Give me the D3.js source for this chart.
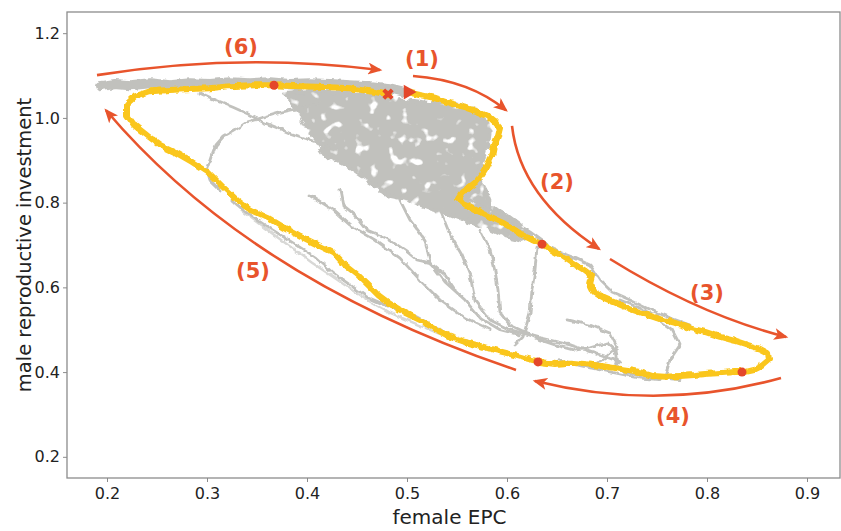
<!doctype html>
<html>
<head>
<meta charset="utf-8">
<script src="https://d3js.org/d3.v7.min.js"></script>
<style>
  body { margin: 0; background: #fff; }
  text { font-family: "DejaVu Sans", Verdana, sans-serif; }
</style>
</head>
<body>
<svg id="chart" width="841" height="531"></svg>
<script>
// ---- data (female EPC, male reproductive investment) ----
var xTicks = [0.2, 0.3, 0.4, 0.5, 0.6, 0.7, 0.8, 0.9];
var yTicks = [0.2, 0.4, 0.6, 0.8, 1.0, 1.2];

// highlighted trajectory (yellow)
var loopX = [0.500,0.513,0.528,0.543,0.558,0.571,0.581,0.588,0.593,0.591,0.587,0.585,0.580,0.575,0.569,0.561,0.555,0.551,0.555,0.563,0.573,0.585,0.596,0.605,0.615,0.625,0.635,0.645,0.655,0.665,0.677,0.685,0.683,0.687,0.697,0.709,0.723,0.738,0.753,0.768,0.783,0.798,0.813,0.828,0.841,0.853,0.861,0.862,0.855,0.847,0.838,0.828,0.815,0.801,0.787,0.773,0.759,0.745,0.733,0.721,0.707,0.693,0.678,0.663,0.648,0.633,0.618,0.603,0.588,0.573,0.558,0.543,0.528,0.513,0.498,0.483,0.471,0.461,0.451,0.438,0.426,0.411,0.393,0.378,0.361,0.343,0.330,0.315,0.301,0.285,0.268,0.253,0.241,0.228,0.220,0.220,0.228,0.243,0.263,0.283,0.303,0.323,0.343,0.367,0.393,0.418,0.443,0.463,0.481];
var loopY = [1.061,1.054,1.047,1.035,1.025,1.014,1.004,0.990,0.976,0.957,0.933,0.910,0.886,0.867,0.849,0.834,0.825,0.811,0.799,0.790,0.778,0.764,0.752,0.740,0.724,0.712,0.702,0.688,0.674,0.658,0.641,0.627,0.608,0.589,0.575,0.563,0.549,0.537,0.525,0.516,0.504,0.495,0.483,0.474,0.464,0.455,0.445,0.429,0.415,0.405,0.400,0.400,0.398,0.396,0.393,0.391,0.389,0.391,0.400,0.405,0.410,0.415,0.419,0.422,0.419,0.424,0.433,0.443,0.452,0.462,0.471,0.483,0.502,0.523,0.540,0.561,0.582,0.606,0.629,0.653,0.683,0.700,0.721,0.740,0.764,0.783,0.806,0.839,0.872,0.896,0.919,0.936,0.957,0.981,1.007,1.033,1.051,1.063,1.066,1.068,1.070,1.075,1.077,1.077,1.075,1.073,1.070,1.063,1.056];

// marked time points on the trajectory
var dotX = [0.367, 0.635, 0.631, 0.835];
var dotY = [1.077, 0.702, 0.424, 0.400];
var startPt = [0.501, 1.061];
var endPt = [0.481, 1.056];

// other replicate trajectories (grey)
var bandX = [0.193,0.208,0.223,0.243,0.263,0.283,0.303,0.323,0.343,0.363,0.383,0.403,0.423,0.443,0.463,0.483,0.498];
var bandY = [1.075,1.080,1.077,1.082,1.077,1.082,1.080,1.084,1.082,1.084,1.080,1.082,1.080,1.077,1.075,1.070,1.061];

var cloudX = [0.378,0.403,0.433,0.463,0.493,0.523,0.548,0.568,0.578,0.583,0.581,0.577,0.571,0.579,0.585,0.598,0.613,0.625,0.615,0.598,0.581,0.563,0.543,0.523,0.503,0.483,0.468,0.453,0.438,0.418,0.408,0.398,0.391,0.383];
var cloudY = [1.061,1.066,1.061,1.054,1.044,1.035,1.028,1.018,0.999,0.971,0.936,0.900,0.865,0.830,0.794,0.771,0.745,0.721,0.712,0.721,0.740,0.754,0.773,0.787,0.806,0.816,0.842,0.865,0.889,0.912,0.948,0.983,1.018,1.042];

var runsX = [
  [0.293,0.308,0.326,0.341,0.356,0.371,0.383,0.398,0.413,0.428],
  [0.413,0.393,0.370,0.353,0.340,0.328,0.316,0.309,0.306,0.303,0.300,0.303,0.313],
  [0.325,0.340,0.358,0.386,0.408,0.426,0.443,0.460,0.483,0.500,0.523,0.553,0.583],
  [0.433,0.436,0.448,0.460,0.480,0.498,0.510,0.523,0.538,0.548],
  [0.403,0.426,0.443,0.468,0.493,0.513,0.533,0.558,0.583],
  [0.563,0.583,0.603,0.623,0.638,0.653,0.668,0.683,0.693,0.705,0.723,0.743,0.763,0.783],
  [0.573,0.583,0.588,0.591,0.593,0.603,0.620,0.633,0.648,0.668,0.683,0.700,0.708,0.710,0.718,0.743,0.773],
  [0.630,0.628,0.625,0.623,0.616,0.608],
  [0.660,0.683,0.703,0.710,0.696,0.683],
  [0.713,0.733,0.748,0.765,0.773,0.763,0.758],
  [0.493,0.503,0.518,0.523,0.538,0.558,0.573,0.593,0.613],
  [0.533,0.543,0.555,0.563,0.568,0.583,0.603,0.633,0.663,0.693,0.713],
  [0.653,0.673,0.693,0.713,0.733,0.753]
];
var runsY = [
  [1.058,1.042,1.025,1.009,0.990,0.976,0.964,0.952,0.941,0.924],
  [1.035,1.023,1.011,0.999,0.990,0.971,0.955,0.936,0.917,0.896,0.877,0.853,0.830],
  [0.806,0.775,0.747,0.705,0.672,0.634,0.606,0.577,0.554,0.540,0.511,0.476,0.452],
  [0.830,0.794,0.771,0.735,0.716,0.688,0.665,0.658,0.629,0.594],
  [0.818,0.783,0.747,0.712,0.669,0.617,0.570,0.528,0.500],
  [0.806,0.783,0.759,0.731,0.705,0.683,0.669,0.653,0.617,0.589,0.570,0.547,0.528,0.511],
  [0.735,0.688,0.641,0.594,0.540,0.511,0.492,0.476,0.464,0.452,0.457,0.469,0.452,0.417,0.400,0.389,0.382],
  [0.695,0.641,0.594,0.540,0.483,0.464],
  [0.523,0.511,0.492,0.459,0.429,0.410],
  [0.570,0.551,0.530,0.500,0.464,0.429,0.389],
  [0.806,0.759,0.712,0.660,0.613,0.570,0.528,0.500,0.488],
  [0.783,0.724,0.676,0.629,0.570,0.523,0.500,0.481,0.464,0.441,0.424],
  [0.429,0.415,0.405,0.396,0.386,0.382]
];
var faintX = [0.333,0.355,0.381,0.405,0.431,0.455,0.481,0.505,0.535,0.563];
var faintY = [0.783,0.745,0.700,0.658,0.617,0.577,0.542,0.518,0.488,0.464];

// phase arrows: start, control, end  (data units)
var phaseLabels = ["(1)", "(2)", "(3)", "(4)", "(5)", "(6)"];
var arrowPts = [
  [[0.506,1.099],[0.563,1.089],[0.599,1.018]],
  [[0.605,0.981],[0.613,0.813],[0.692,0.691]],
  [[0.703,0.667],[0.793,0.535],[0.879,0.483]],
  [[0.874,0.386],[0.753,0.306],[0.628,0.379]],
  [[0.609,0.405],[0.343,0.617],[0.199,1.018]],
  [[0.190,1.101],[0.333,1.155],[0.473,1.113]]
];
var labelPts = [[0.515,1.141],[0.650,0.849],[0.800,0.587],[0.766,0.297],[0.346,0.641],[0.334,1.169]];

// ---- drawing ----
var svg = d3.select("#chart");
var mLeft = 67, mRight = 840, mTop = 12, mBottom = 478;
var x = d3.scaleLinear().domain([0.16, 0.933]).range([mLeft, mRight]);
var y = d3.scaleLinear().domain([0.15, 1.25]).range([mBottom, mTop]);

var orange = "#e8542c", gold = "#fac61b", grey = "#c1c1bd";
var line = d3.line().x(d => x(d[0])).y(d => y(d[1]));
function zip(a, b) { return a.map((v, i) => [v, b[i]]); }

var defs = svg.append("defs");
defs.append("clipPath").attr("id", "plot")
  .append("rect").attr("x", mLeft).attr("y", mTop).attr("width", mRight - mLeft).attr("height", mBottom - mTop);
defs.append("marker").attr("id", "head")
  .attr("viewBox", "0 0 12 10").attr("refX", 10).attr("refY", 5)
  .attr("markerUnits", "userSpaceOnUse").attr("markerWidth", 15).attr("markerHeight", 12)
  .attr("orient", "auto")
  .append("path").attr("d", "M0,0 L12,5 L0,10 L3,5 Z").attr("fill", orange);

// rough edges, like a noisy simulated path
function roughFilter(id, freq, scale, seed) {
  var f = defs.append("filter").attr("id", id)
    .attr("filterUnits", "userSpaceOnUse").attr("x", 0).attr("y", 0).attr("width", 841).attr("height", 531);
  f.append("feTurbulence").attr("type", "fractalNoise").attr("baseFrequency", freq)
    .attr("numOctaves", 2).attr("seed", seed).attr("result", "n");
  f.append("feDisplacementMap").attr("in", "SourceGraphic").attr("in2", "n")
    .attr("scale", scale).attr("xChannelSelector", "R").attr("yChannelSelector", "G");
  return f;
}
roughFilter("rough", 0.14, 4.5, 3);
roughFilter("roughThin", 0.13, 4.5, 7);
var cf = roughFilter("cloudTex", 0.1, 9, 5);
cf.select("feDisplacementMap").attr("result", "d");
cf.append("feTurbulence").attr("type", "fractalNoise").attr("baseFrequency", 0.09)
  .attr("numOctaves", 2).attr("seed", 11).attr("result", "holes");
cf.append("feColorMatrix").attr("in", "holes").attr("type", "matrix")
  .attr("values", "0 0 0 0 0  0 0 0 0 0  0 0 0 0 0  8 0 0 0 -2.1").attr("result", "mask");
cf.append("feComposite").attr("in", "d").attr("in2", "mask").attr("operator", "in");

var g = svg.append("g").attr("clip-path", "url(#plot)");

// grey cloud
g.append("path").attr("d", line(zip(cloudX, cloudY)) + "Z")
  .attr("fill", grey).attr("stroke", grey).attr("stroke-width", 4).attr("stroke-linejoin", "round")
  .attr("filter", "url(#cloudTex)");
var gl = g.append("g").attr("filter", "url(#roughThin)");
gl.append("path").attr("d", line(zip(faintX, faintY)))
  .attr("fill", "none").attr("stroke", "#d8d8d6").attr("stroke-width", 2.4);
runsX.forEach(function(rx, i) {
  gl.append("path").attr("d", line(zip(rx, runsY[i])))
    .attr("fill", "none").attr("stroke", grey).attr("stroke-width", 2.8)
    .attr("stroke-linejoin", "round").attr("stroke-linecap", "round");
});
g.append("path").attr("d", line(zip(bandX, bandY)))
  .attr("fill", "none").attr("stroke", grey).attr("stroke-width", 10)
  .attr("stroke-linejoin", "round").attr("stroke-linecap", "round")
  .attr("filter", "url(#rough)");

// yellow trajectory
g.append("path").attr("d", line(zip(loopX, loopY)))
  .attr("fill", "none").attr("stroke", gold).attr("stroke-width", 6)
  .attr("stroke-linejoin", "round").attr("stroke-linecap", "round")
  .attr("filter", "url(#rough)");

g.selectAll("circle.dot").data(zip(dotX, dotY)).enter().append("circle")
  .attr("class", "dot").attr("cx", d => x(d[0])).attr("cy", d => y(d[1]))
  .attr("r", 4.5).attr("fill", "#e4472a");

g.append("path").attr("d", d3.symbol(d3.symbolTriangle, 95)())
  .attr("transform", "translate(" + x(startPt[0]) + "," + y(startPt[1]) + ") rotate(90)")
  .attr("fill", "#e4472a");
g.append("path").attr("d", d3.symbol(d3.symbolCross, 80)())
  .attr("transform", "translate(" + x(endPt[0]) + "," + y(endPt[1]) + ") rotate(45)")
  .attr("fill", "#e4472a");

// phase arrows
arrowPts.forEach(function(p) {
  var path = d3.path();
  path.moveTo(x(p[0][0]), y(p[0][1]));
  path.quadraticCurveTo(x(p[1][0]), y(p[1][1]), x(p[2][0]), y(p[2][1]));
  svg.append("path").attr("d", path.toString())
    .attr("fill", "none").attr("stroke", orange).attr("stroke-width", 2.6)
    .attr("marker-end", "url(#head)");
});
svg.selectAll("text.phase").data(phaseLabels).enter().append("text")
  .attr("class", "phase")
  .attr("x", (d, i) => x(labelPts[i][0])).attr("y", (d, i) => y(labelPts[i][1]))
  .attr("dy", "0.36em").attr("text-anchor", "middle")
  .attr("font-size", 21).attr("font-weight", "bold").attr("fill", orange)
  .text(d => d);

// axes
svg.append("rect").attr("x", mLeft).attr("y", mTop).attr("width", mRight - mLeft).attr("height", mBottom - mTop)
  .attr("fill", "none").attr("stroke", "#8c8c8c").attr("stroke-width", 1.3);

var xa = svg.append("g").attr("transform", "translate(0," + mBottom + ")")
  .call(d3.axisBottom(x).tickValues(xTicks).tickSize(4).tickPadding(6).tickFormat(d3.format(".1f")));
var ya = svg.append("g").attr("transform", "translate(" + mLeft + ",0)")
  .call(d3.axisLeft(y).tickValues(yTicks).tickSize(4).tickPadding(3).tickFormat(d3.format(".1f")));
[xa, ya].forEach(function(a) {
  a.select(".domain").remove();
  a.selectAll("line").attr("stroke", "#8c8c8c");
  a.selectAll("text").attr("font-size", 16).attr("fill", "#222")
    .style("font-family", "'DejaVu Sans', Verdana, sans-serif");
});

svg.append("text").attr("x", (mLeft + mRight) / 2 - 4).attr("y", 524)
  .attr("text-anchor", "middle").attr("font-size", 20).attr("fill", "#222").text("female EPC");
svg.append("text").attr("transform", "translate(31,245) rotate(-90)")
  .attr("text-anchor", "middle").attr("font-size", 19.5).attr("fill", "#222")
  .text("male reproductive investment");
</script>
</body>
</html>
